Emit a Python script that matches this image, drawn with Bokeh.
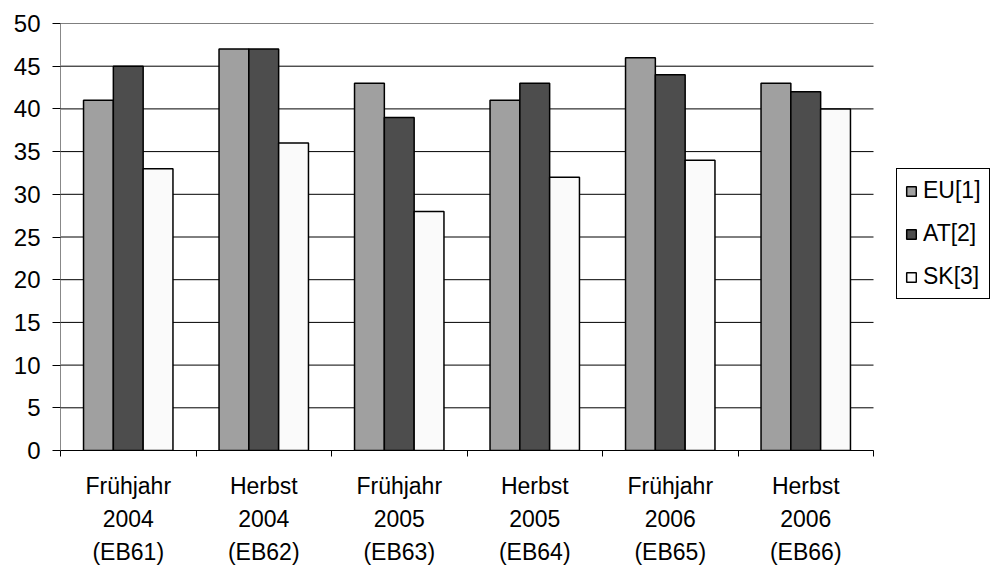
from bokeh.plotting import figure
from bokeh.models import (Range1d, FixedTicker, LinearAxis, Legend, LegendItem,
                          ColumnDataSource)
from bokeh.embed import file_html
from bokeh.resources import INLINE

categories = ["Frühjahr 2004 (EB61)", "Herbst 2004 (EB62)", "Frühjahr 2005 (EB63)",
              "Herbst 2005 (EB64)", "Frühjahr 2006 (EB65)", "Herbst 2006 (EB66)"]
line1 = ["Frühjahr", "Herbst", "Frühjahr", "Herbst", "Frühjahr", "Herbst"]
line2 = ["2004", "2004", "2005", "2005", "2006", "2006"]
line3 = ["(EB61)", "(EB62)", "(EB63)", "(EB64)", "(EB65)", "(EB66)"]
series_names = ["EU[1]", "AT[2]", "SK[3]"]
eu = [41, 47, 43, 41, 46, 43]
at = [45, 47, 39, 43, 44, 42]
sk = [33, 36, 28, 32, 34, 40]
y_ticks = [0, 5, 10, 15, 20, 25, 30, 35, 40, 45, 50]
colors = ["#a0a0a0", "#4d4d4d", "#fafafa"]

FONT = "Liberation Sans"
W, H = 995, 567
LEFT, RIGHT_PAD = 60, 2
PLOT_W = 813          # width of the bar area in pixels
n = len(categories)
frame_w = W - LEFT - RIGHT_PAD
x_end = n * frame_w / PLOT_W   # extra room on the right for the legend

p = figure(width=W, height=H, output_backend="svg", toolbar_location=None,
           x_range=Range1d(0, x_end), y_range=Range1d(0, 50),
           min_border_left=LEFT, min_border_top=23, min_border_right=RIGHT_PAD,
           min_border_bottom=0, x_axis_location=None)
p.outline_line_color = None
p.background_fill_color = "white"
p.border_fill_color = "white"
p.xgrid.visible = False
p.ygrid.visible = False

# horizontal grid lines restricted to the category area
p.segment(x0=[0] * len(y_ticks), x1=[n] * len(y_ticks), y0=y_ticks, y1=y_ticks,
          line_color="black", line_width=1)

yax = p.yaxis[0]
yax.ticker = FixedTicker(ticks=y_ticks, minor_ticks=[])
yax.axis_line_color = "#888888"
yax.major_tick_line_color = "black"
yax.major_tick_out = 8
yax.major_tick_in = 0
yax.minor_tick_line_color = None
yax.major_label_text_font = FONT
yax.major_label_text_font_size = "24px"
yax.major_label_text_color = "black"
yax.major_label_standoff = 12

bw = 0.22
renderers = []
for k, (vals, col) in enumerate(zip([eu, at, sk], colors)):
    xs = [i + 0.5 + (k - 1) * bw for i in range(n)]
    src = ColumnDataSource(dict(x=xs, top=vals))
    r = p.vbar(x="x", top="top", bottom=0, width=bw, source=src,
               fill_color=col, line_color="black", line_width=1.5)
    renderers.append(r)

centers = [i + 0.5 for i in range(n)]
bounds = list(range(n + 1))

def make_axis(labels, first, standoff):
    ax = LinearAxis(ticker=FixedTicker(ticks=centers, minor_ticks=bounds if first else []),
                    bounds=(0, n))
    ax.major_label_overrides = {c: l for c, l in zip(centers, labels)}
    ax.major_label_text_font = FONT
    ax.major_label_text_font_size = "23px"
    ax.major_label_text_color = "black"
    ax.major_label_standoff = standoff
    ax.major_tick_line_color = None
    ax.major_tick_in = 0
    ax.major_tick_out = 0
    if first:
        ax.axis_line_color = "black"
        ax.minor_tick_line_color = "black"
        ax.minor_tick_out = 6
        ax.minor_tick_in = 0
    else:
        ax.axis_line_color = None
        ax.minor_tick_line_color = None
    return ax

p.add_layout(make_axis(line1, True, 16), "below")
p.add_layout(make_axis(line2, False, 8), "below")
p.add_layout(make_axis(line3, False, 9), "below")

legend = Legend(items=[LegendItem(label=nm, renderers=[r]) for nm, r in zip(series_names, renderers)],
                location=(836, 151))
legend.border_line_color = "black"
legend.border_line_alpha = 1
legend.border_line_width = 1
legend.background_fill_color = "white"
legend.background_fill_alpha = 1
legend.label_text_font = FONT
legend.label_text_font_size = "23px"
legend.label_text_color = "black"
legend.glyph_width = 12
legend.glyph_height = 12
legend.spacing = 16
legend.padding = 8
legend.margin = 0
legend.label_standoff = 6
p.add_layout(legend, "center")

open("out.html", "w").write(file_html(p, INLINE))
